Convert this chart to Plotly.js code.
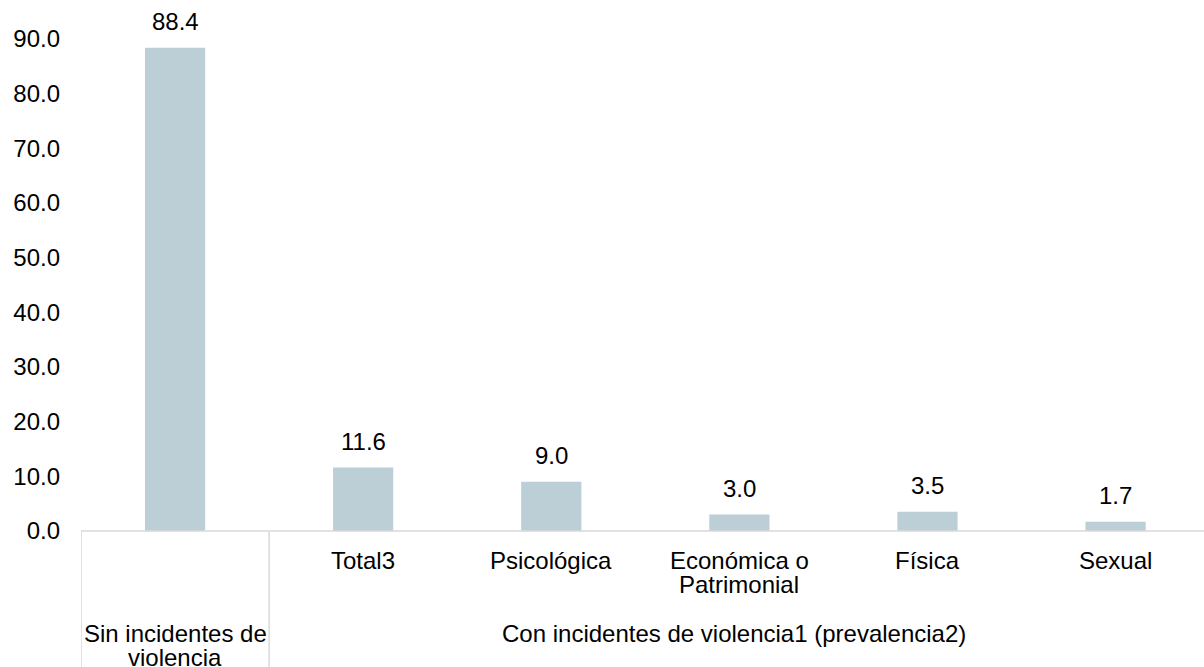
<!DOCTYPE html>
<html><head><meta charset="utf-8">
<script src="https://cdn.plot.ly/plotly-3.0.1.min.js"></script>
<style>html,body{margin:0;padding:0;background:#fff}#c{width:1204px;height:667px}</style>
</head><body><div id="c"></div>
<script>
const categories = ["Sin incidentes de<br>violencia", "Total3", "Psicológica", "Económica o<br>Patrimonial", "Física", "Sexual"];
const values = [88.4, 11.6, 9.0, 3.0, 3.5, 1.7];
const groupLabels = ["Sin incidentes de<br>violencia", "Con incidentes de violencia1 (prevalencia2)"];
const yTicks = [0, 10, 20, 30, 40, 50, 60, 70, 80, 90];

const H = 667, mTop = 39, mBottom = 136;
const plotH = H - mTop - mBottom;
const py = px => (H - mBottom - px) / plotH; // pixel y -> paper
const xs = categories.map((c, i) => i);
const font = {family: "Liberation Sans, Arial, sans-serif", size: 24, color: "#000"};
const lineGap = 24;

const annotations = [];
function addLines(x, text, yCenter) {
  text.split("<br>").forEach((ln, k) => {
    annotations.push({x: x, y: py(yCenter + k * lineGap), xref: "x", yref: "paper", text: ln,
      showarrow: false, yanchor: "middle", font: font});
  });
}
values.forEach((v, i) => {
  annotations.push({x: i, y: v, xref: "x", yref: "y", text: v.toFixed(1), showarrow: false,
    yanchor: "bottom", yshift: 11, font: font});
});
categories.forEach((c, i) => { if (i > 0) addLines(i, c, 560); });
addLines(0, groupLabels[0], 633);
addLines(2.97, groupLabels[1], 633);

const lc = "#d9d9d9";
const shapes = [
  {type: "line", xref: "paper", yref: "paper", x0: 0, x1: 1, y0: 0, y1: 0, line: {color: lc, width: 1.5}},
  {type: "line", xref: "x", yref: "paper", x0: -0.5, x1: -0.5, y0: 0, y1: py(667), line: {color: lc, width: 1.5}},
  {type: "line", xref: "x", yref: "paper", x0: 0.5, x1: 0.5, y0: 0, y1: py(667), line: {color: lc, width: 1.5}}
];

Plotly.newPlot("c", [{
  type: "bar", x: xs, y: values, width: 0.32,
  marker: {color: "#bccfd7"}, hoverinfo: "none", cliponaxis: false
}], {
  width: 1204, height: 667,
  margin: {l: 81, r: 0, t: mTop, b: mBottom},
  paper_bgcolor: "#fff", plot_bgcolor: "#fff",
  showlegend: false,
  xaxis: {range: [-0.5, 5.47], showticklabels: false, showgrid: false, zeroline: false, showline: false, ticks: ""},
  yaxis: {range: [0, 90], tickvals: yTicks, ticktext: yTicks.map(v => v.toFixed(1)), showgrid: false,
    zeroline: false, showline: false, tickfont: font, ticklabelstandoff: 20},
  annotations: annotations, shapes: shapes
}, {displayModeBar: false, staticPlot: true});
</script></body></html>
